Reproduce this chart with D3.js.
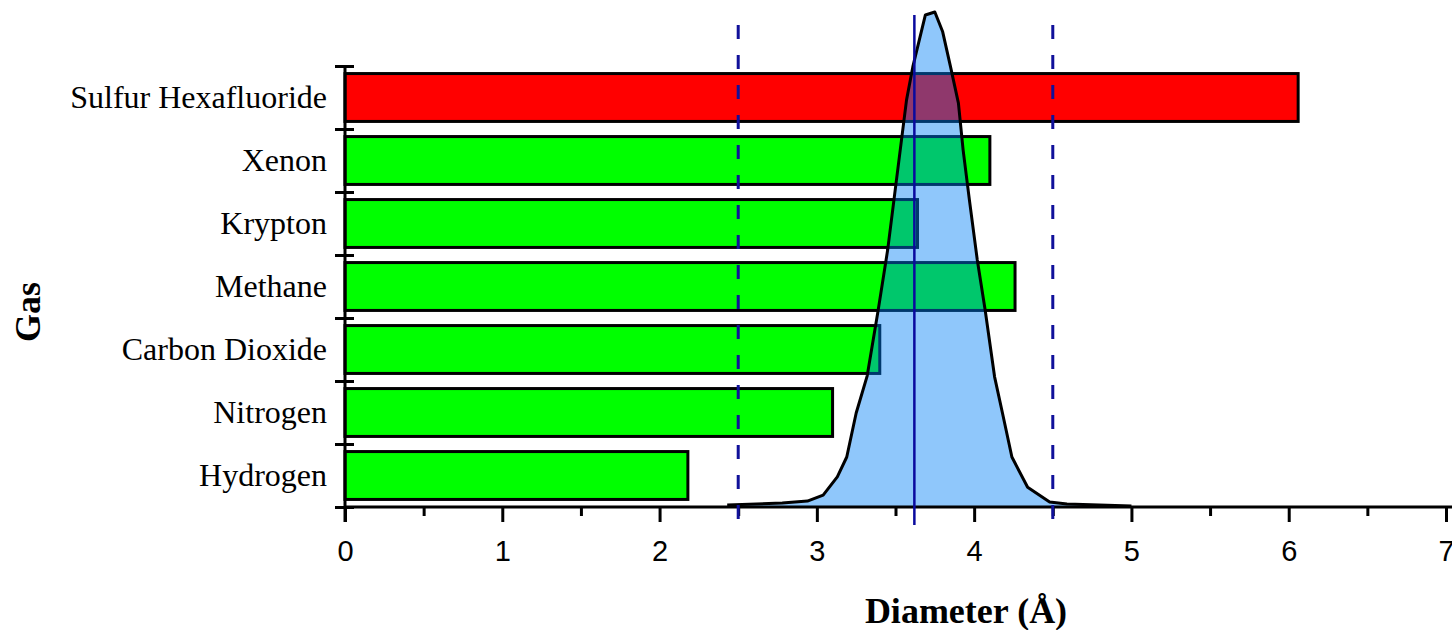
<!DOCTYPE html>
<html>
<head>
<meta charset="utf-8">
<script src="https://cdn.jsdelivr.net/npm/d3@7"></script>
<style>
  html, body { margin: 0; padding: 0; background: #fff; }
  svg { display: block; }
</style>
</head>
<body>
<svg id="chart" width="1452" height="630"></svg>
<script>
// ---- data ----
const gases = ["Sulfur Hexafluoride", "Xenon", "Krypton", "Methane", "Carbon Dioxide", "Nitrogen", "Hydrogen"];
const diameters = [6.06, 4.10, 3.64, 4.26, 3.40, 3.10, 2.18];
const barColors = ["#ff0000", "#00ff00", "#00ff00", "#00ff00", "#00ff00", "#00ff00", "#00ff00"];

// pore size distribution (diameter, relative density)
const distX = [2.43, 2.78, 2.94, 3.04, 3.13, 3.19, 3.25, 3.32, 3.39, 3.45, 3.49, 3.57, 3.61, 3.69, 3.75, 3.80, 3.85, 3.90, 3.93, 3.97, 4.02, 4.07, 4.13, 4.18, 4.24, 4.34, 4.48, 4.59, 5.00];
const distY = [0.004, 0.008, 0.012, 0.024, 0.061, 0.101, 0.19, 0.265, 0.398, 0.519, 0.62, 0.822, 0.889, 0.994, 1.0, 0.96, 0.889, 0.816, 0.721, 0.62, 0.499, 0.398, 0.263, 0.19, 0.101, 0.04, 0.01, 0.006, 0.002];

const meanLine = 3.62;
const rangeLines = [2.5, 4.5];
const xTicks = [0, 1, 2, 3, 4, 5, 6, 7];
const xMinorTicks = [0.5, 1.5, 2.5, 3.5, 4.5, 5.5, 6.5];
const xTitle = "Diameter (Å)";
const yTitle = "Gas";

// ---- scales ----
const svg = d3.select("#chart");
const x = d3.scaleLinear().domain([0, 7]).range([345, 1446]);
const y = d3.scaleBand().domain(gases).range([66, 507]).paddingInner(0.24).paddingOuter(0.12);
const yBound = d3.scaleLinear().domain([0, gases.length]).range([507, 66]);
const yDist = d3.scaleLinear().domain([0, 1]).range([507, 12]);

// ---- bars ----
svg.append("g").selectAll("rect").data(gases).join("rect")
  .attr("x", x(0))
  .attr("y", d => y(d))
  .attr("width", (d, i) => x(diameters[i]) - x(0))
  .attr("height", y.bandwidth())
  .attr("fill", (d, i) => barColors[i])
  .attr("stroke", "#000")
  .attr("stroke-width", 3);

// ---- distribution area ----
const pts = distX.map((v, i) => [v, distY[i]]);
const area = d3.area().x(d => x(d[0])).y0(yDist(0)).y1(d => yDist(d[1]));
const line = d3.line().x(d => x(d[0])).y(d => yDist(d[1]));
svg.append("path").datum(pts).attr("d", area)
  .attr("fill", "rgb(0,128,245)").attr("fill-opacity", 0.44);
svg.append("path").datum(pts).attr("d", line)
  .attr("fill", "none").attr("stroke", "#000").attr("stroke-width", 3)
  .attr("stroke-linejoin", "round");

// ---- axes ----
const xAxis = svg.append("g").attr("transform", `translate(0,${507})`)
  .call(d3.axisBottom(x).tickValues(xTicks).tickSize(15).tickPadding(18).tickFormat(d3.format("d")));
xAxis.select(".domain").attr("stroke", "#000").attr("stroke-width", 3).attr("d", `M${x(0)},0H${x(7)+6}`);
xAxis.selectAll(".tick line").attr("stroke-width", 3);
xAxis.selectAll(".tick text").attr("font-family", "Liberation Sans, Arial, sans-serif").attr("font-size", 29).attr("fill", "#000");

const xMinor = svg.append("g").attr("transform", `translate(0,${507})`)
  .call(d3.axisBottom(x).tickValues(xMinorTicks).tickSize(9).tickFormat(""));
xMinor.select(".domain").remove();
xMinor.selectAll(".tick line").attr("stroke-width", 3);

const yAxis = svg.append("g").attr("transform", `translate(${x(0)},0)`)
  .call(d3.axisLeft(yBound).tickValues(d3.range(0, gases.length + 1)).tickSize(10).tickFormat(""));
yAxis.select(".domain").attr("stroke-width", 3).attr("d", `M0,${yBound(gases.length)}V${yBound(0)+15}`);
yAxis.selectAll(".tick line").attr("stroke-width", 3).attr("x1", 9);

// category labels
svg.append("g").selectAll("text").data(gases).join("text")
  .attr("x", 327)
  .attr("y", d => y(d) + y.bandwidth() / 2 + 10)
  .attr("text-anchor", "end")
  .attr("font-family", "Liberation Serif, Times New Roman, serif")
  .attr("font-size", 32)
  .attr("fill", "#000")
  .text(d => d);

// ---- reference lines ----
svg.append("g").selectAll("line").data(rangeLines).join("line")
  .attr("x1", d => x(d)).attr("x2", d => x(d))
  .attr("y1", 25).attr("y2", 524)
  .attr("stroke", "#10109a").attr("stroke-width", 3)
  .attr("stroke-dasharray", "14,16");

svg.append("line")
  .attr("x1", x(meanLine)).attr("x2", x(meanLine))
  .attr("y1", 15).attr("y2", 525)
  .attr("stroke", "#0a0a9e").attr("stroke-width", 2.5);

// ---- titles ----
svg.append("text")
  .attr("x", 966).attr("y", 623)
  .attr("text-anchor", "middle")
  .attr("font-family", "Liberation Serif, Times New Roman, serif")
  .attr("font-weight", "bold").attr("font-size", 36)
  .text(xTitle);

svg.append("text")
  .attr("transform", "translate(40,312) rotate(-90)")
  .attr("text-anchor", "middle")
  .attr("font-family", "Liberation Serif, Times New Roman, serif")
  .attr("font-weight", "bold").attr("font-size", 36)
  .text(yTitle);
</script>
</body>
</html>
